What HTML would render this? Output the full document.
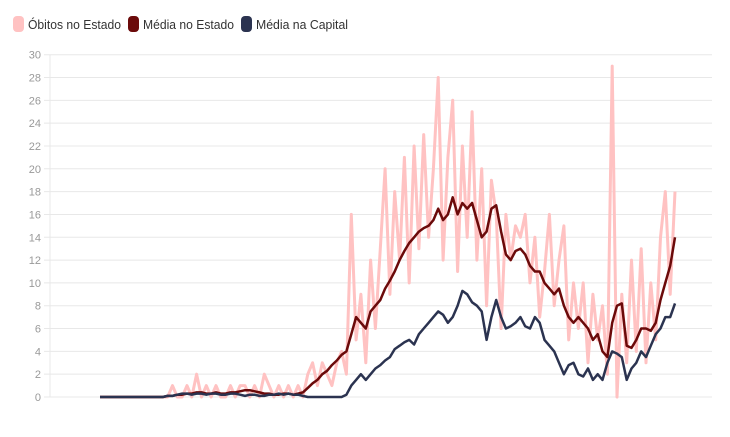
<!DOCTYPE html>
<html><head><meta charset="utf-8"><style>
body{margin:0;background:#fff;width:730px;height:437px;overflow:hidden;font-family:"Liberation Sans",sans-serif}
svg{display:block}
</style></head><body>
<svg width="730" height="437">
<g>
<g><rect x="13" y="16" width="11" height="16" rx="4" fill="#ffc2c2"/><text x="28" y="29" font-size="13" fill="#333" textLength="93" lengthAdjust="spacingAndGlyphs">Óbitos no Estado</text></g>
<g><rect x="128" y="16" width="11" height="16" rx="4" fill="#6b0a0a"/><text x="143" y="29" font-size="13" fill="#333" textLength="91" lengthAdjust="spacingAndGlyphs">Média no Estado</text></g>
<g><rect x="241" y="16" width="11" height="16" rx="4" fill="#2b3350"/><text x="256" y="29" font-size="13" fill="#333" textLength="92" lengthAdjust="spacingAndGlyphs">Média na Capital</text></g>
</g>
<g id="grid"></g>
<g id="series"></g>
</svg>
<script>
const raw=[0,0,0,0,0,0,0,0,0,0,0,0,0,0,
0,1,0,0,1,0,2,0,1,0,1,0,0,1,0,1,1,0,1,0,2,1,0,1,0,1,0,1,
0,2,3,1,3,2,1,3,4,2,
16,5,9,3,12,6,13,20,
9,18,12,21,10,22,13,23,14,20,
28,12,21,26,11,22,14,25,12,20,
8,19,16,6,16,12,15,14,16,10,
14,7,11,16,8,12,15,5,10,6,
10,3,9,5,8,2,29,0,9,3,
12,4,13,3,10,5,14,18,9,18];
const meanState=[0,0,0,0,0,0,0,0,0,0,0,0,0,0,
0.1,0.1,0.2,0.2,0.3,0.3,0.4,0.4,0.3,0.3,0.4,0.3,0.3,0.4,0.4,0.5,0.6,0.6,0.5,0.4,0.3,0.3,0.2,0.2,0.3,0.3,0.2,0.3,
0.4,0.8,1.2,1.5,2.0,2.3,2.8,3.2,3.7,4.0,
5.5,7.0,6.5,6.0,7.5,8.0,8.5,9.5,
10.2,11.0,12.0,12.8,13.5,14.0,14.5,14.8,15.0,15.5,
16.5,15.5,16.0,17.5,16.0,17.0,16.5,17.0,15.5,14.0,
14.5,16.5,16.8,14.5,12.5,12.0,12.8,13.0,12.5,11.5,
11.0,11.0,10.0,9.5,9.0,9.5,8.0,7.0,6.5,7.0,
6.5,6.0,5.0,5.5,4.0,3.5,6.5,8.0,8.2,4.5,
4.3,5.0,6.0,6.0,5.8,6.5,8.5,10.0,11.5,14.0];
const meanCapital=[0,0,0,0,0,0,0,0,0,0,0,0,0,0,
0.1,0.1,0.2,0.3,0.3,0.2,0.3,0.3,0.2,0.3,0.3,0.2,0.2,0.3,0.3,0.2,0.1,0.2,0.2,0.1,0.1,0.2,0.2,0.3,0.2,0.3,0.2,0.2,
0.1,0,0,0,0,0,0,0,0,0.2,
1.0,1.5,2.0,1.5,2.0,2.5,2.8,3.2,
3.5,4.2,4.5,4.8,5.0,4.6,5.5,6.0,6.5,7.0,
7.5,7.2,6.5,7.0,8.0,9.3,9.0,8.3,8.0,7.5,
5.0,7.0,8.5,7.0,6.0,6.2,6.5,7.0,6.2,6.0,
7.0,6.5,5.0,4.5,4.0,3.0,2.0,2.8,3.0,2.0,
1.8,2.5,1.5,2.0,1.5,3.0,4.0,3.8,3.5,1.5,
2.5,3.0,4.0,3.5,4.5,5.5,6.0,7.0,7.0,8.2];
const yTicks=[0,2,4,6,8,10,12,14,16,18,20,22,24,26,28,30];
const NS="http://www.w3.org/2000/svg";
const X0=100,X1=675,Y0=397,UNIT=11.41;
function xs(i){return X0+i*(X1-X0)/(raw.length-1);}
function ys(v){return Y0-v*UNIT;}
const grid=document.getElementById('grid');
yTicks.forEach(t=>{
 const l=document.createElementNS(NS,'line');
 
 
 l.setAttribute('x1',44);l.setAttribute('x2',712);
 l.setAttribute('y1',ys(t));l.setAttribute('y2',ys(t));
 l.setAttribute('stroke','#e8e8e8');l.setAttribute('stroke-width','1');
 grid.appendChild(l);
 const tx=document.createElementNS(NS,'text');
 
 
 tx.setAttribute('x',41);tx.setAttribute('y',ys(t)+4);
 tx.setAttribute('text-anchor','end');tx.setAttribute('font-size','11');tx.setAttribute('fill','#999');
 tx.textContent=t;grid.appendChild(tx);
});
const ax=document.createElementNS(NS,'line');


ax.setAttribute('x1',50);ax.setAttribute('x2',50);ax.setAttribute('y1',ys(30));ax.setAttribute('y2',Y0);
ax.setAttribute('stroke','#e8e8e8');grid.appendChild(ax);
const series=document.getElementById('series');
function line(arr,color,w,name){
 const p=document.createElementNS(NS,'path');
 
 
 p.setAttribute('d',arr.map((v,i)=>(i?'L':'M')+xs(i).toFixed(1)+' '+ys(v).toFixed(1)).join(''));
 p.setAttribute('fill','none');p.setAttribute('stroke',color);p.setAttribute('stroke-width',w);
 p.setAttribute('stroke-linejoin','round');
 series.appendChild(p);
}
line(raw,'#ffc2c2',3,'obitos-line');
line(meanState,'#6b0a0a',2.5,'media-estado-line');
line(meanCapital,'#2b3350',2.5,'media-capital-line');
</script>
</body></html>
